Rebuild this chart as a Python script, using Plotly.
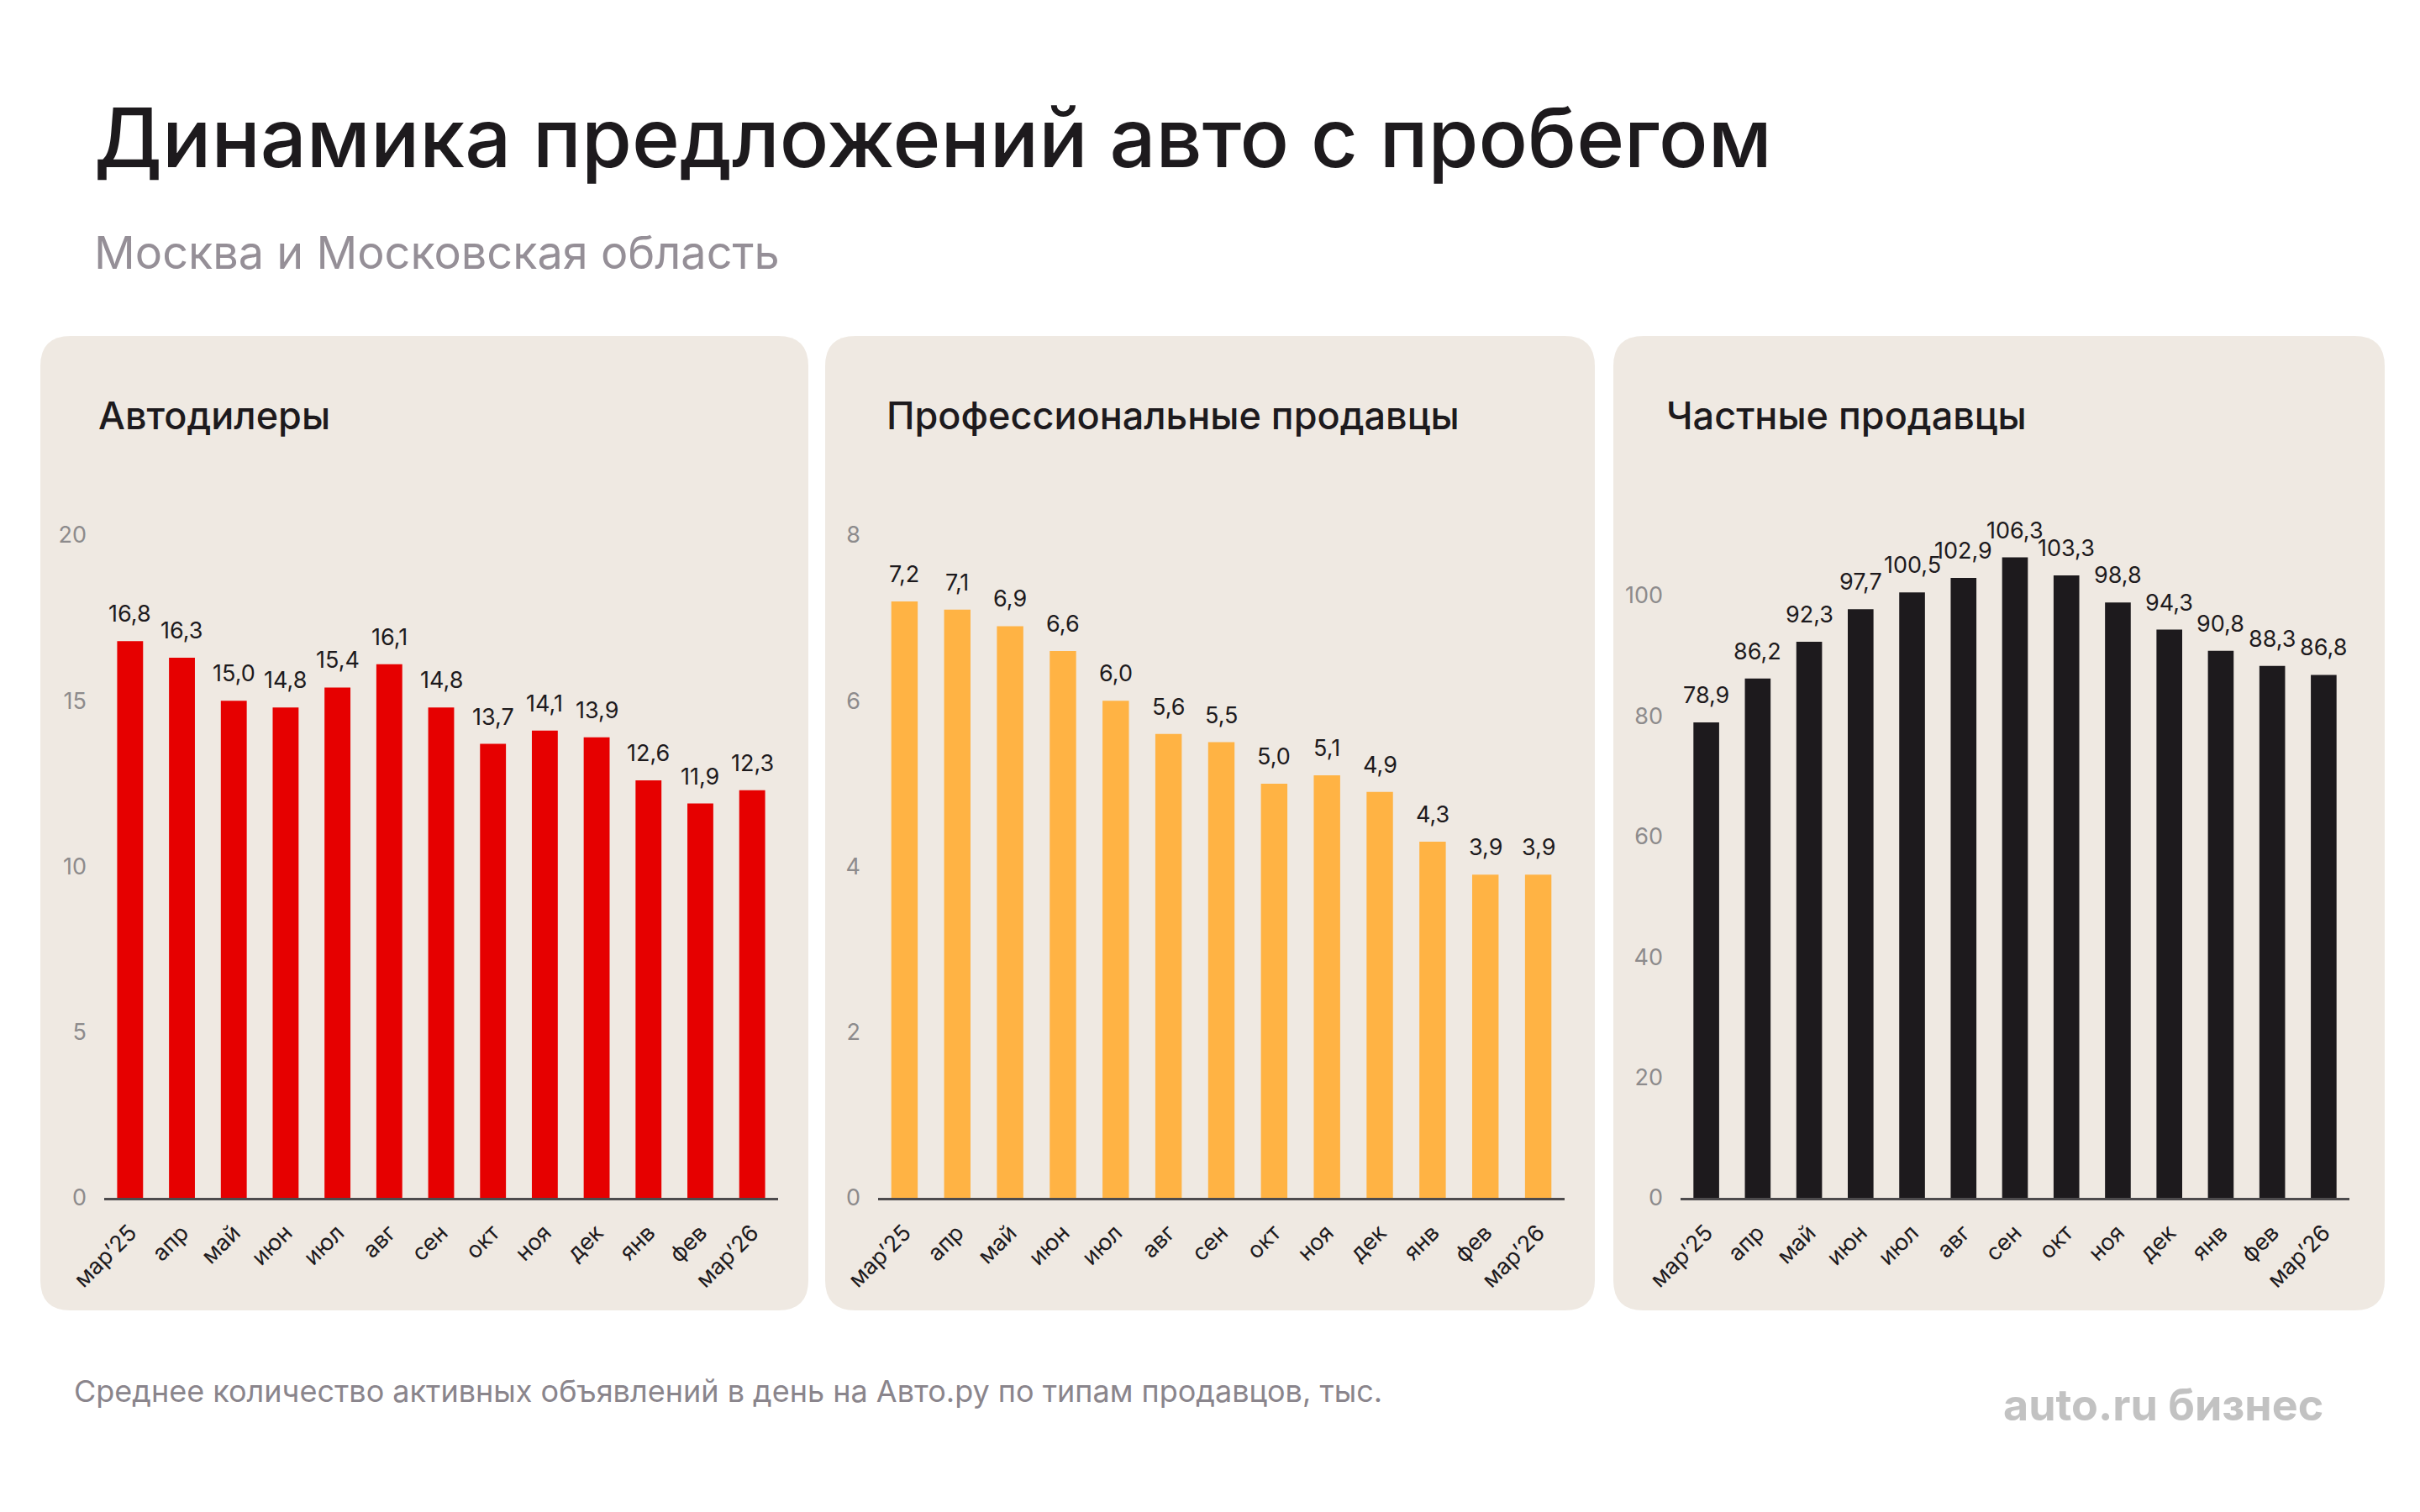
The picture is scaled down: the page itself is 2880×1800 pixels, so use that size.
import plotly.graph_objects as go

# the page body keeps its default 8px margin, so the figure is a bit smaller
# than the window and all layout numbers below are page pixels
PAGE_W, PAGE_H = 2880, 1800
OFF = 8
W, H = PAGE_W - 2 * OFF, PAGE_H - 2 * OFF

# data, thousands of active listings per day
months = ["мар’25", "апр", "май", "июн", "июл", "авг", "сен", "окт", "ноя", "дек", "янв", "фев", "мар’26"]
dealers = [16.8, 16.3, 15.0, 14.8, 15.4, 16.1, 14.8, 13.7, 14.1, 13.9, 12.6, 11.9, 12.3]
pro_sellers = [7.2, 7.1, 6.9, 6.6, 6.0, 5.6, 5.5, 5.0, 5.1, 4.9, 4.3, 3.9, 3.9]
private_sellers = [78.9, 86.2, 92.3, 97.7, 100.5, 102.9, 106.3, 103.3, 98.8, 94.3, 90.8, 88.3, 86.8]

panel_titles = ["Автодилеры", "Профессиональные продавцы", "Частные продавцы"]
y_ticks = [[0, 5, 10, 15, 20], [0, 2, 4, 6, 8], [0, 20, 40, 60, 80, 100]]
y_ranges = [[0, 20], [0, 8], [0, 110]]
bar_colors = ["#e60000", "#ffb344", "#1d1a1d"]

FONT = "Inter"
PANEL_BG = "#efe9e2"

# panel boxes and plot areas (left, top, right, bottom)
panels = [(48, 400, 962, 1560), (982, 400, 1898, 1560), (1920, 400, 2838, 1560)]
plot_x = [(124, 926), (1045, 1862), (2000, 2796)]
plot_top, plot_bottom = 637, 1426
title_x = [115, 1053, 1981]


def px(x):
    return (x - OFF) / W


def py(y):
    return 1 - (y - OFF) / H


def rounded_rect(x0, y0, x1, y1, r):
    def p(x, y):
        return f"{px(x):.5f},{py(y):.5f}"
    return (f"M {p(x0 + r, y0)} L {p(x1 - r, y0)} Q {p(x1, y0)} {p(x1, y0 + r)} "
            f"L {p(x1, y1 - r)} Q {p(x1, y1)} {p(x1 - r, y1)} L {p(x0 + r, y1)} "
            f"Q {p(x0, y1)} {p(x0, y1 - r)} L {p(x0, y0 + r)} Q {p(x0, y0)} {p(x0 + r, y0)} Z")


def fmt(v):
    return f"{v:.1f}".replace(".", ",")


fig = go.Figure()
annotations = []

series = [dealers, pro_sellers, private_sellers]
for i, values in enumerate(series):
    n = "" if i == 0 else str(i + 1)
    fig.add_trace(go.Bar(
        x=list(range(len(months))),
        y=values,
        marker=dict(color=bar_colors[i], line=dict(width=0)),
        width=0.5,
        xaxis="x" + n,
        yaxis="y" + n,
        showlegend=False,
        hoverinfo="skip",
    ))
    # value labels sit a little above each bar
    for k, v in enumerate(values):
        annotations.append(dict(
            text=fmt(v), x=k, y=v, xref="x" + n, yref="y" + n,
            xanchor="center", yanchor="bottom", yshift=14, showarrow=False,
            font=dict(family=FONT, size=27, color="#1d1a1d"),
        ))
    fig.update_layout(**{
        "xaxis" + n: dict(
            domain=[px(plot_x[i][0]), px(plot_x[i][1])],
            anchor="y" + n,
            range=[-0.5, len(months) - 0.5],
            tickvals=list(range(len(months))),
            ticktext=months,
            tickangle=-45,
            tickfont=dict(family=FONT, size=27, color="#1d1a1d"),
            showline=True, linecolor="#4d4b4d", linewidth=3,
            ticks="", ticklabelstandoff=12,
            showgrid=False, zeroline=False, fixedrange=True, automargin=False,
        ),
        "yaxis" + n: dict(
            domain=[py(plot_bottom), py(plot_top)],
            anchor="x" + n,
            range=y_ranges[i],
            tickvals=y_ticks[i],
            tickfont=dict(family=FONT, size=27, color="#8d8b8c"),
            showline=False, ticks="", ticklabelstandoff=20,
            showgrid=False, zeroline=False, fixedrange=True, automargin=False,
        ),
    })

shapes = []
for (x0, y0, x1, y1) in panels:
    shapes.append(dict(type="path", xref="paper", yref="paper",
                       path=rounded_rect(x0, y0, x1, y1, 36),
                       fillcolor=PANEL_BG, line=dict(width=0), layer="below"))

texts = [
    dict(text="Динамика предложений авто с пробегом", x=px(110), y=py(163),
         font=dict(family=FONT, size=97, weight=500, color="#1d1a1d")),
    dict(text="Москва и Московская область", x=px(110), y=py(300),
         font=dict(family=FONT, size=54, color="#958f97")),
    dict(text="Среднее количество активных объявлений в день на Авто.ру по типам продавцов, тыс.",
         x=px(86), y=py(1656), font=dict(family=FONT, size=36, color="#8a858c")),
    dict(text="<b>auto.ru бизнес</b>", x=px(2767), y=py(1672), xanchor="right",
         font=dict(family=FONT, size=52, color="#c2c2c2")),
]
for i, t in enumerate(panel_titles):
    texts.append(dict(text=t, x=px(title_x[i]), y=py(495),
                      font=dict(family=FONT, size=45, weight=500, color="#1d1a1d")))

for a in texts:
    a.setdefault("xanchor", "left")
    a.update(xref="paper", yref="paper", yanchor="middle", showarrow=False)

fig.update_layout(
    width=W, height=H,
    margin=dict(l=0, r=0, t=0, b=0, pad=0, autoexpand=False),
    paper_bgcolor="white",
    plot_bgcolor="rgba(0,0,0,0)",
    shapes=shapes,
    annotations=texts + annotations,
    bargap=0.5,
)

fig.write_html("out.html")
